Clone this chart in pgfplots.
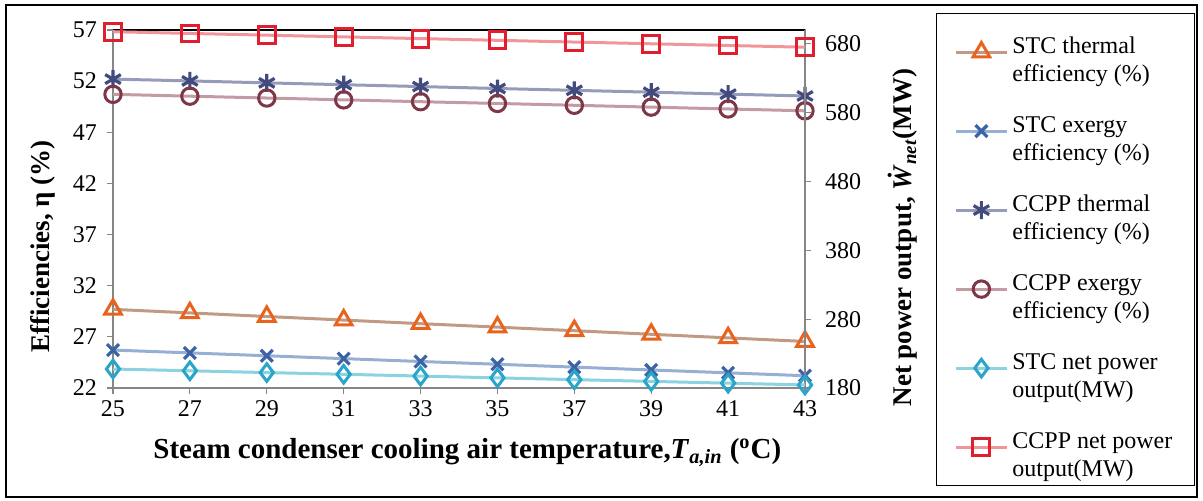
\documentclass[border=0pt]{standalone}
\usepackage{fontspec}
\setmainfont{Liberation Serif}
\usepackage{pgfplots}
\pgfplotsset{compat=1.18}
\definecolor{axgray}{RGB}{134,134,134}
\definecolor{lA}{RGB}{192,154,132}\definecolor{mA}{RGB}{232,100,30}
\definecolor{lB}{RGB}{150,175,210}\definecolor{mB}{RGB}{60,100,165}
\definecolor{lC}{RGB}{150,155,185}\definecolor{mC}{RGB}{65,75,125}
\definecolor{lD}{RGB}{195,155,165}\definecolor{mD}{RGB}{125,55,70}
\definecolor{lE}{RGB}{140,210,225}\definecolor{mE}{RGB}{40,165,200}
\definecolor{lF}{RGB}{240,150,155}\definecolor{mF}{RGB}{225,30,45}
\pgfplotsset{
 sA/.style={color=lA, line width=1.5pt, mark=triangle, mark size=4.8pt, mark options={draw=mA, fill=white, line width=1.5pt, solid}},
 sB/.style={color=lB, line width=1.5pt, mark=x, mark size=4.2pt, mark options={draw=mB, line width=1.6pt, solid}},
 sC/.style={color=lC, line width=1.5pt, mark=asterisk, mark size=4.5pt, mark options={draw=mC, line width=1.6pt, solid}},
 sD/.style={color=lD, line width=1.5pt, mark=o, mark size=4.1pt, mark options={draw=mD, fill=white, line width=1.5pt, solid}},
 sE/.style={color=lE, line width=1.5pt, mark=diamond, mark size=4.4pt, mark options={draw=mE, fill=white, line width=1.5pt, solid}},
 sF/.style={color=lF, line width=1.5pt, mark=square, mark size=4.2pt, mark options={draw=mF, fill=white, line width=1.5pt, solid}},
}
\begin{document}
\begin{tikzpicture}
\useasboundingbox (0pt,0pt) rectangle (601.5pt,250.5pt);
\draw[black, line width=0.7pt] (3pt,2pt) rectangle (598.5pt,248pt);
\begin{axis}[
 at={(56.5pt,56.5pt)}, anchor=south west, scale only axis, width=346pt, height=179pt,
 xmin=25, xmax=43, ymin=22, ymax=57, xtick={25,27,...,43}, ytick={22,27,...,57},
 xtick pos=bottom, ytick pos=left,
 axis line style={draw=axgray, line width=0.9pt},
 tick style={draw=axgray, line width=0.6pt}, major tick length=3pt, tick align=outside,
 /pgf/number format/assume math mode=true,
 ticklabel style={font=\fontsize{12}{14}\selectfont},
 yticklabel style={xshift=-1.5pt},
 clip=false,
 xlabel={Steam condenser cooling air temperature,\textit{T}\textsubscript{\textit{a,in}} (\textsuperscript{o}C)},
 xlabel style={font=\fontsize{14.5}{17}\selectfont\bfseries, at={(axis description cs:0.512,-0.18)}, anchor=center},
 ylabel={Efficiencies, η (\%)},
 ylabel style={font=\fontsize{13.5}{16}\selectfont\bfseries, at={(axis description cs:-0.101,0.395)}, anchor=center},
]
\addplot[sA] coordinates {(25,29.69)(27,29.34)(29,28.99)(31,28.64)(33,28.29)(35,27.95)(37,27.60)(39,27.25)(41,26.90)(43,26.55)};
\addplot[sB] coordinates {(25,25.71)(27,25.43)(29,25.15)(31,24.87)(33,24.59)(35,24.32)(37,24.04)(39,23.76)(41,23.48)(43,23.20)};
\addplot[sC] coordinates {(25,52.20)(27,52.02)(29,51.83)(31,51.65)(33,51.47)(35,51.28)(37,51.10)(39,50.92)(41,50.73)(43,50.55)};
\addplot[sD] coordinates {(25,50.71)(27,50.53)(29,50.35)(31,50.17)(33,49.99)(35,49.82)(37,49.64)(39,49.46)(41,49.28)(43,49.10)};
\draw[black, line width=0.9pt] (rel axis cs:0,1) -- (rel axis cs:1,1);
\end{axis}
\begin{axis}[
 at={(56.5pt,56.5pt)}, anchor=south west, scale only axis, width=346pt, height=179pt,
 xmin=25, xmax=43, ymin=180, ymax=700, ytick={180,280,...,680},
 axis y line*=right, axis x line=none,
 axis line style={draw=axgray, line width=0.9pt},
 tick style={draw=axgray, line width=0.6pt}, major tick length=3pt, tick align=outside,
 /pgf/number format/assume math mode=true,
 ticklabel style={font=\fontsize{12}{14}\selectfont},
 yticklabel style={xshift=3.5pt},
 clip=false,
 ylabel={Net power output, \textit{\.W}\textsubscript{\textit{net}}(MW)},
 ylabel style={font=\fontsize{13.5}{16}\selectfont\bfseries, at={(axis description cs:1.1416,0.42)}, anchor=center},
 legend style={at={(axis description cs:1.189,1.0475)}, anchor=north west, draw=black, line width=0.6pt,
   font=\fontsize{12}{14}\selectfont, row sep=17pt, inner xsep=9pt, inner ysep=8pt},
 legend cell align=left,
 legend image code/.code={\draw[mark repeat=2,mark phase=2] plot coordinates {(0pt,0pt) (12.75pt,0pt) (25.5pt,0pt)};},
]
\addlegendimage{sA}\addlegendentry{\begin{tabular}{@{}l@{}}STC thermal\\efficiency (\%)\end{tabular}}
\addlegendimage{sB}\addlegendentry{\begin{tabular}{@{}l@{}}STC exergy\\efficiency (\%)\end{tabular}}
\addlegendimage{sC}\addlegendentry{\begin{tabular}{@{}l@{}}CCPP thermal\\efficiency (\%)\end{tabular}}
\addlegendimage{sD}\addlegendentry{\begin{tabular}{@{}l@{}}CCPP exergy\\efficiency (\%)\end{tabular}}
\addplot[sE] coordinates {(25,207.6)(27,205.0)(29,202.4)(31,199.9)(33,197.3)(35,194.7)(37,192.1)(39,189.6)(41,187.0)(43,184.4)};
\addlegendentry{\begin{tabular}{@{}l@{}}STC net power\\output(MW)\end{tabular}}
\addplot[sF] coordinates {(25,697.5)(27,695.0)(29,692.5)(31,690.0)(33,687.5)(35,685.0)(37,682.5)(39,680.0)(41,677.5)(43,675.0)};
\addlegendentry{\begin{tabular}{@{}l@{}}CCPP net power\\output(MW)\end{tabular}}
\end{axis}
\end{tikzpicture}
\end{document}
